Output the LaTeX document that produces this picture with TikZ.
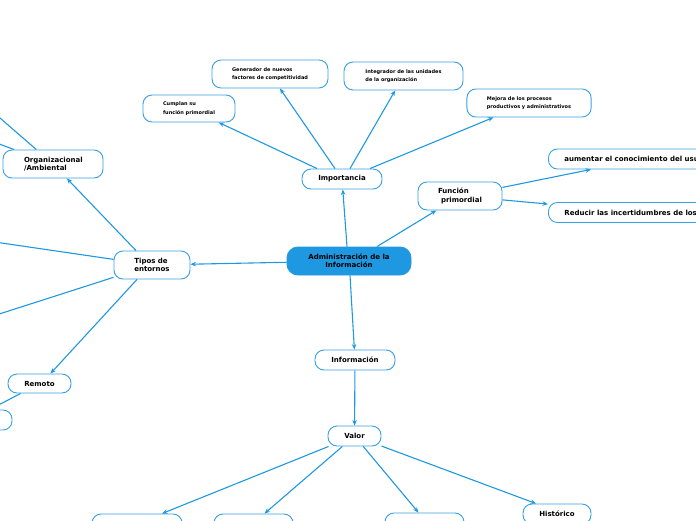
\documentclass[tikz,border=0pt]{standalone}
\usepackage{fontspec}
\setmainfont{DejaVu Sans}
\usetikzlibrary{arrows.meta}
\definecolor{mblue}{RGB}{30,152,225}
\definecolor{bblue}{RGB}{55,160,228}
\begin{document}
\begin{tikzpicture}[x=1pt,y=-1pt,
  box/.style={draw=bblue,line width=0.9pt,rounded corners=9pt,fill=white,inner sep=0pt,
    font=\bfseries\fontsize{7}{8.3}\selectfont,text=black},
  small/.style={box,font=\bfseries\fontsize{5}{8.7}\selectfont,align=left,inner xsep=20pt},
  conn/.style={draw=mblue,line width=1.1pt,-{Stealth[length=5.5pt,width=4.5pt]}},
  plain/.style={draw=mblue,line width=1.1pt}]
\useasboundingbox (0,0) rectangle (696,520);
\clip (0,0) rectangle (696,520);

% central
\node[box,fill=mblue,draw=mblue,minimum width=124pt,minimum height=28pt,align=center,rounded corners=11pt] (adm) at (349,261) {Administración de la\\Información};

% importancia branch
\node[box,minimum width=80pt,minimum height=20pt] (imp) at (342,179) {Importancia};
\node[small,minimum width=92pt,minimum height=27pt] (cum) at (189,108.5) {Cumplan su\\función primordial};
\node[small,minimum width=112pt,minimum height=28pt] (gen) at (270,74) {Generador de nuevos\\factores de competitividad};
\node[small,minimum width=119pt,minimum height=28pt] (int) at (403.5,76) {Integrador de las unidades\\de la organización};
\node[small,minimum width=124pt,minimum height=28pt] (mej) at (529,103) {Mejora de los procesos\\productivos y administrativos};

% funcion branch
\node[box,minimum width=84pt,minimum height=28pt,align=left] (fun) at (460,196) {Función\\\hspace*{3pt}primordial};
\node[box,minimum height=20pt,anchor=west,inner xsep=16pt] (aum) at (548,159) {aumentar el conocimiento del usuario};
\node[box,minimum height=20pt,anchor=west,inner xsep=16pt] (red) at (548,212.5) {Reducir las incertidumbres de los usuarios};

% tipos branch
\node[box,minimum width=76pt,minimum height=28pt,align=left] (tip) at (152,265) {Tipos de\\entornos};
\node[box,minimum width=100pt,minimum height=28pt,align=left,text width=58pt] (org) at (53,164) {Organizacional\\/Ambiental};
\node[box,minimum width=63pt,minimum height=19pt] (rem) at (39.5,383.5) {Remoto};
\node[box,minimum width=84pt,minimum height=20pt] (par) at (-30,420) {};
\coordinate (o1) at (-60,66);
\coordinate (o2) at (-60,122);
\coordinate (t1) at (-60,234);
\coordinate (t2) at (-60,333);

% informacion branch
\node[box,minimum width=80pt,minimum height=20pt] (inf) at (355,360) {Información};
\node[box,minimum width=53pt,minimum height=20pt] (val) at (354.5,436) {Valor};
\node[box,minimum width=90pt,minimum height=20pt] (b1) at (137,524) {};
\node[box,minimum width=79pt,minimum height=20pt] (b2) at (253.5,524) {};
\node[box,minimum width=79pt,minimum height=20pt] (b3) at (424.5,523) {};
\node[box,minimum width=68pt,minimum height=20pt] (his) at (557,514) {Histórico};

% connectors
\draw[conn] ([xshift=-2pt]adm.north) -- (imp);
\draw[conn] ([xshift=-25pt]imp.north) -- (cum);
\draw[conn] ([xshift=-7pt]imp.north) -- (gen);
\draw[conn] ([xshift=8pt]imp.north) -- (int);
\draw[conn] ([xshift=28pt]imp.north) -- ([xshift=27pt]mej.south west);
\draw[conn] ([xshift=28pt]adm.north) -- (fun);
\draw[conn] (fun) -- ([xshift=43pt]aum.south west);
\draw[conn] (fun) -- ([yshift=-2pt]red.north west);
\draw[conn] (adm) -- (tip);
\draw[conn] ([xshift=-16pt]tip.north) -- (org);
\draw[plain] (org) -- (o1);
\draw[plain] (org) -- (o2);
\draw[plain] (tip) -- (t1);
\draw[plain] (tip) -- (t2);
\draw[conn] ([xshift=-15pt]tip.south) -- ([xshift=11pt]rem.north);
\draw[conn] (rem) -- (par);
\draw[conn] ([xshift=1pt]adm.south) -- (inf);
\draw[conn] (inf) -- (val);
\draw[conn] (val) -- ([xshift=25pt]b1.north);
\draw[conn] (val) -- ([xshift=11pt]b2.north);
\draw[conn] (val) -- ([xshift=-6pt]b3.north);
\draw[conn] (val) -- ([xshift=-21pt]his.north);
\end{tikzpicture}
\end{document}
